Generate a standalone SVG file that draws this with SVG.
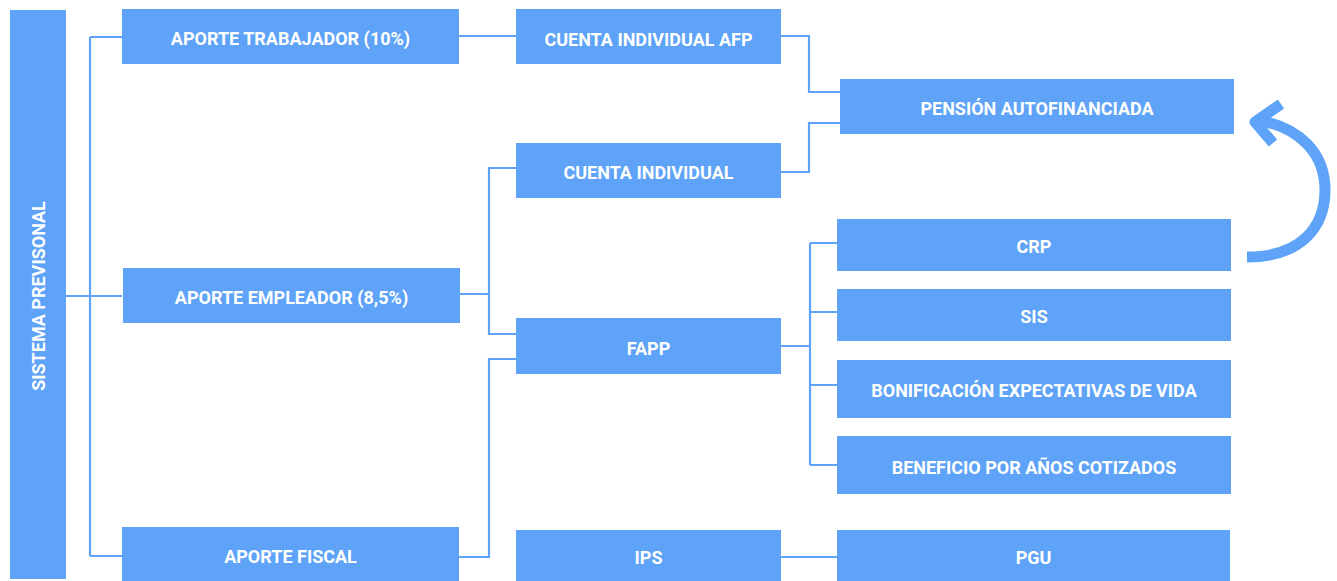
<svg xmlns="http://www.w3.org/2000/svg" width="1337" height="581" viewBox="0 0 1337 581">
<style>
.box{fill:#5ea3f7}
.t{font-family:Roboto,"Liberation Sans",sans-serif;font-weight:700;font-size:18px;fill:#ffffff;text-anchor:middle;letter-spacing:0px}
.c{fill:none;stroke:#5ea3f7;stroke-width:2.2}
</style>
<rect width="1337" height="581" fill="#ffffff"/>
<g id="connectors">
<path class="c" d="M66,296H122M90,37V556M90,37H122M90,556H122"/>
<path class="c" d="M459,36H516"/>
<path class="c" d="M781,36H809V92H840M781,172H809V123H840"/>
<path class="c" d="M460,294H489M516,168H489V334H516"/>
<path class="c" d="M459,557H489V359H516"/>
<path class="c" d="M781,346H810M810,243V465M810,243H837M810,312H837M810,385H837M810,465H837"/>
<path class="c" d="M781,557H837"/>
<g id="loop-arrow" fill="none" stroke="#5ea3f7" stroke-width="11">
<path d="M1247,257C1300,257 1325,228 1325,190C1325,152 1298,128 1262,121"/>
<path d="M1281,104L1255,122L1273,143" stroke-linejoin="round"/>
</g>
</g>
<g id="sistema-previsonal"><rect class="box" x="10" y="10" width="56" height="569"/><text class="t" transform="translate(45,296) rotate(-90)">SISTEMA PREVISONAL</text></g>
<g id="aporte-trabajador"><rect class="box" x="122" y="9" width="337" height="55"/><text class="t" x="290.5" y="45">APORTE TRABAJADOR (10%)</text></g>
<g id="aporte-empleador"><rect class="box" x="123" y="268" width="337" height="55"/><text class="t" x="291.5" y="304">APORTE EMPLEADOR (8,5%)</text></g>
<g id="aporte-fiscal"><rect class="box" x="122" y="527" width="337" height="54"/><text class="t" x="290.5" y="563">APORTE FISCAL</text></g>
<g id="cuenta-individual-afp"><rect class="box" x="516" y="9" width="265" height="55"/><text class="t" x="648.5" y="46">CUENTA INDIVIDUAL AFP</text></g>
<g id="cuenta-individual"><rect class="box" x="516" y="143" width="265" height="55"/><text class="t" x="648.5" y="179">CUENTA INDIVIDUAL</text></g>
<g id="fapp"><rect class="box" x="516" y="318" width="265" height="56"/><text class="t" x="648.5" y="355">FAPP</text></g>
<g id="ips"><rect class="box" x="516" y="530" width="265" height="51"/><text class="t" x="648.5" y="564">IPS</text></g>
<g id="pension-autofinanciada"><rect class="box" x="840" y="79" width="394" height="55"/><text class="t" x="1037" y="115">PENSIÓN AUTOFINANCIADA</text></g>
<g id="crp"><rect class="box" x="837" y="219" width="394" height="52"/><text class="t" x="1034" y="253">CRP</text></g>
<g id="sis"><rect class="box" x="837" y="289" width="394" height="52"/><text class="t" x="1034" y="323">SIS</text></g>
<g id="bonificacion"><rect class="box" x="837" y="360" width="394" height="58"/><text class="t" x="1034" y="397">BONIFICACIÓN EXPECTATIVAS DE VIDA</text></g>
<g id="beneficio"><rect class="box" x="837" y="436" width="394" height="58"/><text class="t" x="1034" y="474">BENEFICIO POR AÑOS COTIZADOS</text></g>
<g id="pgu"><rect class="box" x="837" y="530" width="393" height="51"/><text class="t" x="1033.5" y="564">PGU</text></g>
</svg>
